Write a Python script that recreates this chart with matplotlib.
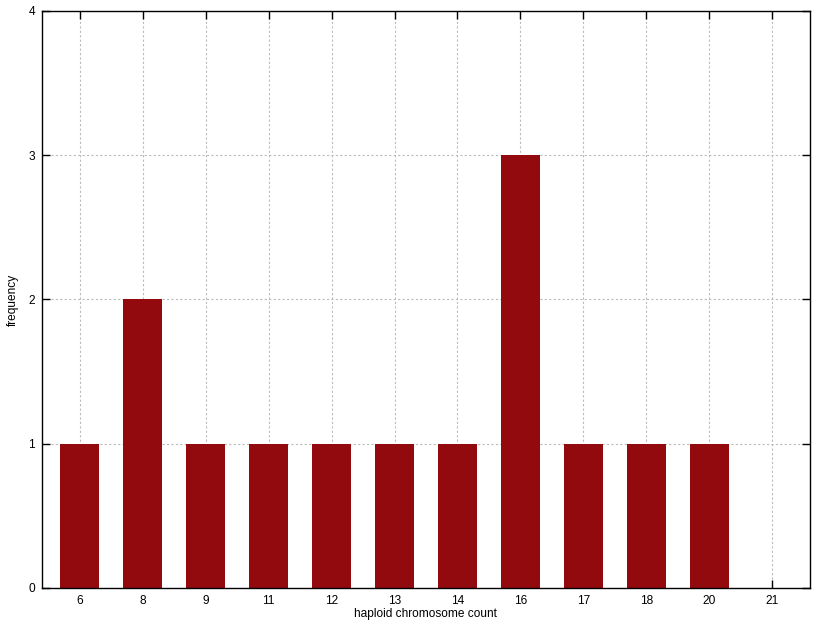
import matplotlib
matplotlib.use("Agg")
import matplotlib.pyplot as plt

plt.rcParams['font.family'] = ['Liberation Sans', 'DejaVu Sans']
plt.rcParams['font.size'] = 8.6

categories = ['6', '8', '9', '11', '12', '13', '14', '16', '17', '18', '20', '21']
counts = [1, 2, 1, 1, 1, 1, 1, 3, 1, 1, 1, 0]

fig = plt.figure(figsize=(8.32, 6.24), dpi=100)
ax = fig.add_axes((0.0505, 0.0577, 0.923, 0.9247))

xs = range(len(categories))
ax.bar(xs, counts, width=0.62, color='#930a0e', zorder=2)

ax.set_xlim(-0.6, len(categories) - 0.4)
ax.set_ylim(0, 4)
ax.set_xticks(list(xs))
ax.set_xticklabels(categories)
ax.set_yticks(range(0, 5))

ax.grid(True, color='#bbbbbb', linestyle=(0, (2, 2)), linewidth=0.8, zorder=0)
ax.set_axisbelow(True)
ax.tick_params(direction='in', length=6, width=1, top=True, right=True, pad=5)
for s in ax.spines.values():
    s.set_linewidth(1.0)
    s.set_zorder(3)

ax.set_xlabel('haploid chromosome count', labelpad=1)
ax.set_ylabel('frequency', labelpad=7)

fig.savefig('out.png', dpi=100)
